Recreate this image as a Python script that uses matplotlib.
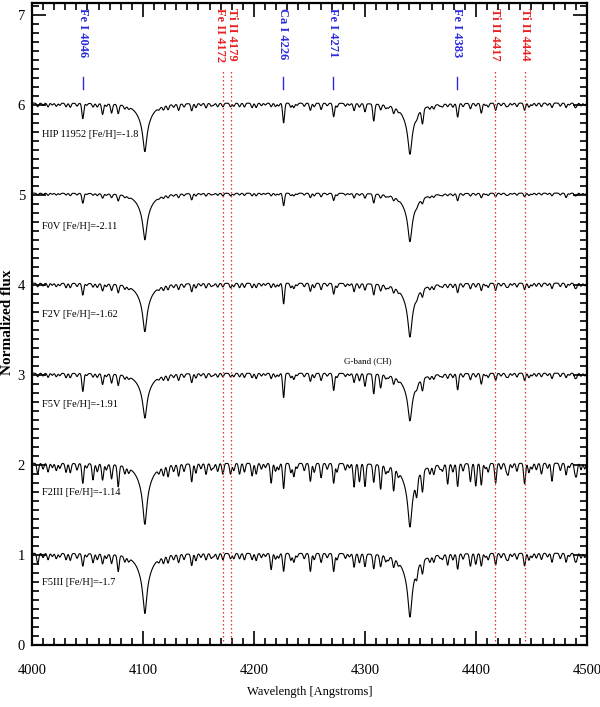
import numpy as np
import matplotlib
matplotlib.use("Agg")
import matplotlib.pyplot as plt
from matplotlib.ticker import MultipleLocator

# ---------------- data ----------------
star_names = ["HIP 11952 [Fe/H]=-1.8", "F0V [Fe/H]=-2.11", "F2V [Fe/H]=-1.62",
              "F5V [Fe/H]=-1.91", "F2III [Fe/H]=-1.14", "F5III [Fe/H]=-1.7"]
star_offsets = [6, 5, 4, 3, 2, 1]
label_y = [5.67, 4.65, 3.67, 2.67, 1.69, 0.69]

# Balmer lines (H-delta, H-gamma): central depths
balmer_waves = [4101.7, 4340.5]
hdelta_depth = [0.52, 0.50, 0.52, 0.48, 0.66, 0.65]
hgamma_depth = [0.55, 0.52, 0.58, 0.51, 0.69, 0.69]

# Main metal lines (Angstrom) and their depths in each star
main_lines = [4005.2, 4030.7, 4045.8, 4055.0, 4063.6, 4071.7, 4077.7, 4122.6, 4132.1,
              4143.9, 4156.8, 4172.0, 4178.9, 4187.0, 4198.3, 4202.0, 4215.5, 4226.7,
              4235.9, 4250.8, 4254.3, 4260.5, 4271.8, 4290.2, 4295.0, 4300.0, 4307.9,
              4314.1, 4325.8, 4346.6, 4351.8, 4374.5, 4383.5, 4395.0, 4399.8, 4404.8,
              4417.7, 4429.0, 4443.8, 4459.0, 4468.5, 4481.2, 4490.6]
depth_hip = [0.04, 0.04, 0.17, 0.04, 0.12, 0.10, 0.10, 0.05, 0.07, 0.08, 0.05, 0.04, 0.04,
             0.04, 0.05, 0.05, 0.04, 0.22, 0.05, 0.08, 0.04, 0.07, 0.15, 0.08, 0.04, 0.09,
             0.19, 0.06, 0.07, 0.03, 0.16, 0.03, 0.15, 0.06, 0.03, 0.11, 0.08, 0.03, 0.08,
             0.04, 0.05, 0.05, 0.03]
depth_f0v = [0.02, 0.02, 0.11, 0.02, 0.05, 0.04, 0.07, 0.03, 0.04, 0.07, 0.03, 0.03, 0.03,
             0.02, 0.03, 0.03, 0.03, 0.14, 0.03, 0.05, 0.03, 0.04, 0.08, 0.05, 0.02, 0.05,
             0.10, 0.04, 0.04, 0.02, 0.05, 0.02, 0.08, 0.03, 0.02, 0.05, 0.04, 0.02, 0.04,
             0.02, 0.03, 0.05, 0.02]
depth_f2v = [0.04, 0.05, 0.13, 0.04, 0.08, 0.07, 0.09, 0.05, 0.06, 0.09, 0.05, 0.04, 0.05,
             0.05, 0.05, 0.05, 0.05, 0.23, 0.06, 0.09, 0.05, 0.07, 0.12, 0.09, 0.05, 0.07,
             0.12, 0.07, 0.06, 0.03, 0.08, 0.04, 0.10, 0.06, 0.04, 0.08, 0.08, 0.04, 0.07,
             0.04, 0.06, 0.05, 0.04]
depth_f5v = [0.04, 0.05, 0.20, 0.04, 0.12, 0.10, 0.12, 0.06, 0.07, 0.10, 0.05, 0.04, 0.04,
             0.04, 0.05, 0.06, 0.06, 0.27, 0.07, 0.09, 0.05, 0.08, 0.19, 0.10, 0.08, 0.14,
             0.22, 0.15, 0.08, 0.04, 0.13, 0.05, 0.18, 0.07, 0.04, 0.12, 0.08, 0.04, 0.08,
             0.04, 0.06, 0.05, 0.04]
depth_f2iii = [0.12, 0.10, 0.22, 0.18, 0.18, 0.16, 0.24, 0.12, 0.13, 0.20, 0.12, 0.12, 0.12,
               0.12, 0.14, 0.12, 0.22, 0.28, 0.15, 0.20, 0.10, 0.16, 0.22, 0.26, 0.20, 0.25,
               0.20, 0.27, 0.25, 0.18, 0.23, 0.22, 0.25, 0.20, 0.25, 0.24, 0.22, 0.12, 0.23,
               0.12, 0.20, 0.13, 0.12]
depth_f5iii = [0.12, 0.07, 0.14, 0.10, 0.11, 0.10, 0.18, 0.08, 0.09, 0.13, 0.07, 0.07, 0.06,
               0.06, 0.07, 0.08, 0.18, 0.20, 0.10, 0.20, 0.07, 0.10, 0.20, 0.15, 0.10, 0.14,
               0.16, 0.13, 0.10, 0.10, 0.14, 0.12, 0.17, 0.14, 0.12, 0.14, 0.13, 0.07, 0.14,
               0.07, 0.10, 0.10, 0.07]
line_depths = [depth_hip, depth_f0v, depth_f2v, depth_f5v, depth_f2iii, depth_f5iii]

# Weak lines (common to all stars) and a per-star strength factor
weak_lines = [4010.0, 4014.5, 4018.3, 4021.9, 4025.1, 4034.5, 4040.6, 4049.3, 4058.8, 4067.0,
              4083.6, 4087.1, 4114.4, 4118.5, 4127.6, 4137.0, 4147.7, 4152.2, 4161.5, 4163.6,
              4167.3, 4181.8, 4191.4, 4206.7, 4210.3, 4219.4, 4222.2, 4233.2, 4238.8, 4245.3,
              4266.0, 4274.8, 4282.4, 4286.0, 4318.7, 4321.0, 4330.0, 4358.5, 4362.0, 4367.6,
              4369.8, 4379.2, 4388.4, 4408.4, 4411.0, 4422.6, 4427.3, 4432.6, 4436.9, 4447.7,
              4450.5, 4454.4, 4464.5, 4476.0, 4484.2, 4489.2, 4494.6, 4498.0]
weak_rel = [0.8, 1.2, 0.6, 1.0, 0.7, 1.3, 0.9, 0.6, 1.1, 0.8, 1.0, 0.7, 0.6, 1.2, 0.9, 1.0,
            1.3, 0.7, 0.9, 0.6, 1.1, 1.0, 1.2, 0.8, 0.6, 1.1, 0.9, 1.3, 0.7, 1.0, 0.8, 1.2,
            0.9, 0.6, 1.1, 0.8, 0.7, 1.0, 1.2, 0.6, 0.9, 1.1, 1.0, 0.7, 1.2, 0.8, 1.0, 0.6,
            1.1, 1.3, 0.8, 0.9, 0.7, 1.0, 0.6, 1.2, 0.9, 0.8]
weak_depth = 0.035
weak_scale = [1.0, 0.6, 1.1, 1.1, 2.3, 1.7]

# Line identifications
blue_ids = ["Fe I 4046", "Ca I 4226", "Fe I 4271", "Fe I 4383"]
blue_waves = [4046, 4226, 4271, 4383]
red_ids = ["Fe II 4172", "Ti II 4179", "Ti II 4417", "Ti II 4444"]
red_waves = [4172, 4179, 4417, 4444]
red_text_shift = [-2.5, 0.8, 0.0, 0.0]

# ---------------- build spectra ----------------
wave = np.arange(4000.0, 4500.01, 0.25)
sigma = 0.85


def spectrum(i):
    f = np.full_like(wave, star_offsets[i] + 0.02)
    for lam, d in zip(main_lines, line_depths[i]):
        f -= d * np.exp(-0.5 * ((wave - lam) / sigma) ** 2)
    for lam, r in zip(weak_lines, weak_rel):
        f -= weak_depth * weak_scale[i] * r * np.exp(-0.5 * ((wave - lam) / sigma) ** 2)
    for lam, d in zip(balmer_waves, [hdelta_depth[i], hgamma_depth[i]]):
        d = d + 0.02
        f -= 0.6 * d / (1 + ((wave - lam) / 2.0) ** 2) + 0.4 * d / (1 + ((wave - lam) / 7.0) ** 2)
    return f


# ---------------- plot ----------------
serif = "Liberation Serif"
fig = plt.figure(figsize=(6.0, 7.07), dpi=100)
ax = fig.add_axes([0.0533, 0.0877, 0.925, 0.908])

for i in range(len(star_names)):
    ax.plot(wave, spectrum(i), color="black", lw=0.8)
    ax.text(4009, label_y[i], star_names[i], fontsize=7.5, family=serif,
            ha="left", va="center")

ax.text(4303, 3.15, "G-band (CH)", fontsize=6.5, family=serif, ha="center", va="center")

for lab, w in zip(blue_ids, blue_waves):
    ax.plot([w, w], [6.17, 6.31], color="#2a2adc", lw=1.0)
    ax.text(w, 7.07, lab, rotation=270, color="#2a2adc", fontsize=9, family=serif,
            fontweight="bold", ha="center", va="top")
for lab, w, dx in zip(red_ids, red_waves, red_text_shift):
    ax.plot([w, w], [0, 6.37], color="#f02828", lw=0.9, ls=(0, (1.2, 2.0)))
    ax.text(w + dx, 7.07, lab, rotation=270, color="#e82020", fontsize=9, family=serif,
            fontweight="bold", ha="center", va="top")

ax.set_xlim(4000, 4500)
ax.set_ylim(0, 7.13)
ax.xaxis.set_major_locator(MultipleLocator(100))
ax.xaxis.set_minor_locator(MultipleLocator(10))
ax.yaxis.set_major_locator(MultipleLocator(1))
ax.yaxis.set_minor_locator(MultipleLocator(0.1))
ax.tick_params(which="both", direction="in", top=True, right=True, width=1.2)
ax.tick_params(which="major", length=10)
ax.tick_params(which="minor", length=5)
ax.tick_params(axis="x", pad=14)
ax.tick_params(axis="y", pad=5)
for lab in ax.get_xticklabels() + ax.get_yticklabels():
    lab.set_family(serif)
    lab.set_fontsize(10.5)
for sp in ax.spines.values():
    sp.set_linewidth(1.6)

ax.set_xlabel("Wavelength [Angstroms]", family=serif, fontsize=9)
ax.xaxis.set_label_coords(0.5, -0.073)
ax.xaxis.label.set_va("center")
ax.set_ylabel("Normalized flux", family=serif, fontsize=11, fontweight="bold")
ax.yaxis.set_label_coords(-0.044, 0.503)
ax.yaxis.label.set_va("center")

fig.savefig("out.png", dpi=100)
